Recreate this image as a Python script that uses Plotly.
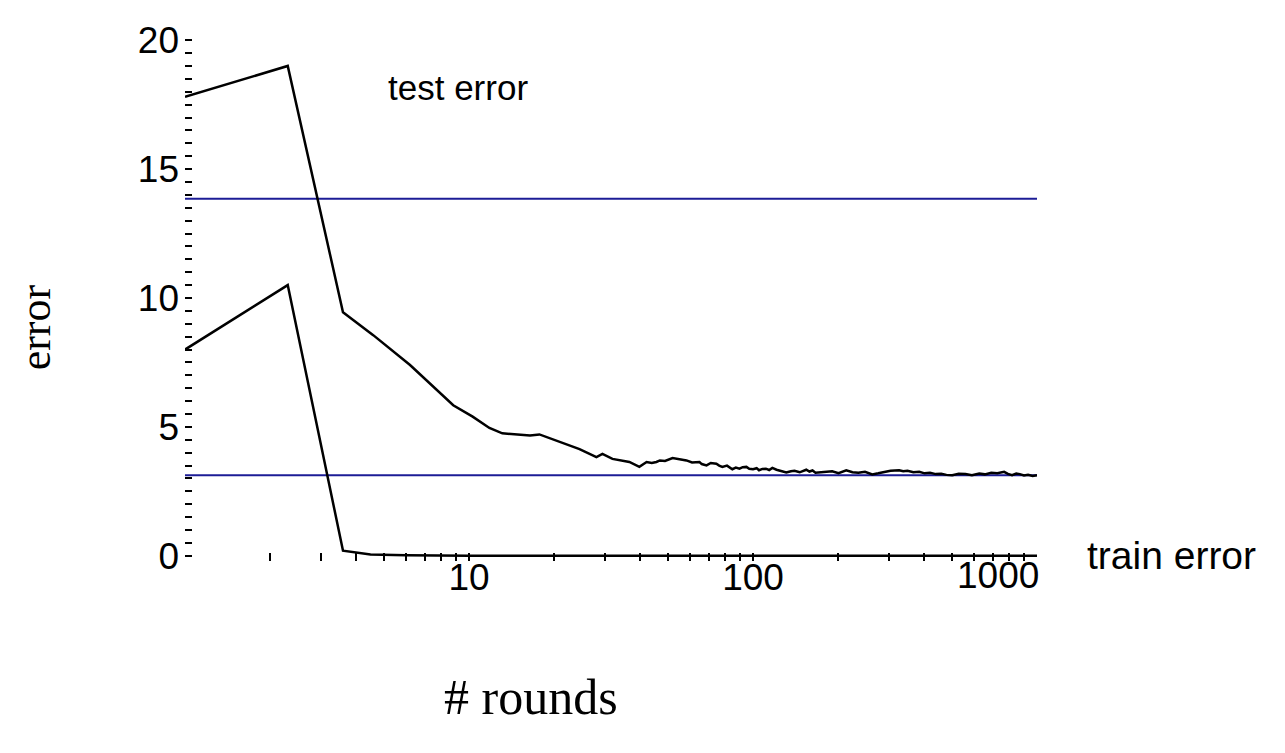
import plotly.graph_objects as go

# ---- data ----
test_rounds = [1, 2.3, 3.6, 4.6, 6.2, 7.3, 8.8, 10.3, 11.8, 13.1, 16.4, 17.7, 19.7,
               24.5, 28.1, 29.5, 32, 36.7, 39.8, 42.2, 44, 45.7, 47, 49, 52.1, 55, 58.3,
               61, 64.8, 66, 68.6, 71, 74.3, 76, 78, 81, 84.6, 87, 89.6, 92, 94.8, 97,
               100, 103, 105, 108, 111, 114, 117, 121, 124, 128, 131, 136, 140, 146,
               154, 158, 162, 166, 171, 180, 190, 200, 213, 224, 235, 248, 263, 276,
               290, 305, 327, 338, 350, 367, 385, 402, 420, 440, 460, 480, 503, 530,
               560, 590, 626, 655, 690, 725, 766, 790, 817, 845, 870, 900, 930, 965, 1000]
test_error = [17.8, 19.0, 9.45, 8.56, 7.4, 6.67, 5.84, 5.4, 4.96, 4.75, 4.67, 4.71, 4.52,
              4.14, 3.83, 3.95, 3.76, 3.64, 3.45, 3.64, 3.6, 3.64, 3.7, 3.68, 3.79, 3.74, 3.7,
              3.62, 3.64, 3.56, 3.51, 3.6, 3.57, 3.5, 3.45, 3.5, 3.36, 3.42, 3.38, 3.44, 3.45,
              3.38, 3.36, 3.4, 3.32, 3.37, 3.38, 3.33, 3.41, 3.34, 3.3, 3.26, 3.23, 3.28, 3.3,
              3.24, 3.34, 3.27, 3.31, 3.22, 3.23, 3.26, 3.28, 3.21, 3.32, 3.24, 3.22, 3.26,
              3.16, 3.2, 3.24, 3.3, 3.32, 3.28, 3.3, 3.24, 3.26, 3.2, 3.22, 3.17, 3.18, 3.14,
              3.13, 3.18, 3.17, 3.13, 3.19, 3.16, 3.22, 3.2, 3.26, 3.18, 3.13, 3.19, 3.17,
              3.12, 3.14, 3.1, 3.13]

train_rounds = [1, 2.3, 3.6, 4.5, 6, 10, 100, 1000]
train_error = [8.0, 10.5, 0.2, 0.05, 0.02, 0, 0, 0]

ref_levels = [13.85, 3.13]

x_ticks = [2, 3, 4, 5, 6, 7, 8, 9, 10, 20, 30, 40, 50, 60, 70, 80, 90, 100,
           200, 300, 400, 500, 600, 700, 800, 900, 1000]
x_tick_labels = ["" if v not in (10, 100) else str(v) for v in x_ticks]
last_x_label = "1000"
y_ticks = [0, 5, 10, 15, 20]
y_tick_labels = ["0", "5", "10", "15", "20"]

# figure is drawn inside the page's 8px body margin
W, H = 1277, 737
L, R, T, B = 177, 248, 15, 184
OFF = 8

fig = go.Figure()
for lvl in ref_levels:
    fig.add_trace(go.Scatter(x=[1, 1000], y=[lvl, lvl], mode="lines",
                             line=dict(color="#1c1c96", width=2),
                             showlegend=False, hoverinfo="skip"))
fig.add_trace(go.Scatter(x=test_rounds, y=test_error, mode="lines",
                         line=dict(color="#000000", width=2.5), showlegend=False))
fig.add_trace(go.Scatter(x=train_rounds, y=train_error, mode="lines",
                         line=dict(color="#000000", width=2.5), showlegend=False))

sans = "Liberation Sans, Arial, sans-serif"
tick_font = dict(family=sans, size=37, color="#000000")
serif = "Liberation Serif, Times New Roman, serif"

pw = W - L - R
ph = H - T - B


def px(xw):
    return (xw - OFF - L) / pw


def py(yw):
    return (H - B - (yw - OFF)) / ph


fig.update_layout(
    width=W, height=H,
    margin=dict(l=L, r=R, t=T, b=B),
    paper_bgcolor="white", plot_bgcolor="white",
    xaxis=dict(type="log", range=[0, 3], showgrid=False, zeroline=False,
               showline=False, tickmode="array", tickvals=x_ticks,
               ticktext=x_tick_labels, ticks="inside", ticklen=8, tickwidth=1.5,
               tickcolor="#000000", tickfont=tick_font, ticklabelstandoff=-9),
    yaxis=dict(range=[-0.2, 20.2], showgrid=False, zeroline=False, showline=False,
               tickmode="array", tickvals=y_ticks, ticktext=y_tick_labels,
               ticks="inside", ticklen=7, tickwidth=2, tickcolor="#000000",
               tickfont=tick_font, ticklabelstandoff=5,
               minor=dict(dtick=0.5, ticks="inside", ticklen=7, tickwidth=2,
                          tickcolor="#000000", showgrid=False)),
    annotations=[
        dict(text="test error", x=px(386), y=py(77), xref="paper", yref="paper",
             xanchor="left", yanchor="middle", showarrow=False,
             font=dict(family=sans, size=35, color="#000000")),
        dict(text="train error", x=px(1085), y=py(555), xref="paper", yref="paper",
             xanchor="left", yanchor="middle", showarrow=False,
             font=dict(family=sans, size=39, color="#000000")),
        dict(text=last_x_label, x=3, xref="x", xanchor="right", xshift=4,
             y=py(576), yref="paper", yanchor="middle", showarrow=False,
             font=tick_font),
        dict(text="error", x=px(35), y=py(322), xref="paper", yref="paper",
             xanchor="center", yanchor="middle",
             showarrow=False, textangle=-90,
             font=dict(family=serif, size=44, color="#000000")),
        dict(text="# rounds", x=px(531), y=py(700), xref="paper", yref="paper",
             xanchor="center", yanchor="middle",
             showarrow=False, font=dict(family=serif, size=50, color="#000000")),
    ],
)

fig.write_html("out.html")
